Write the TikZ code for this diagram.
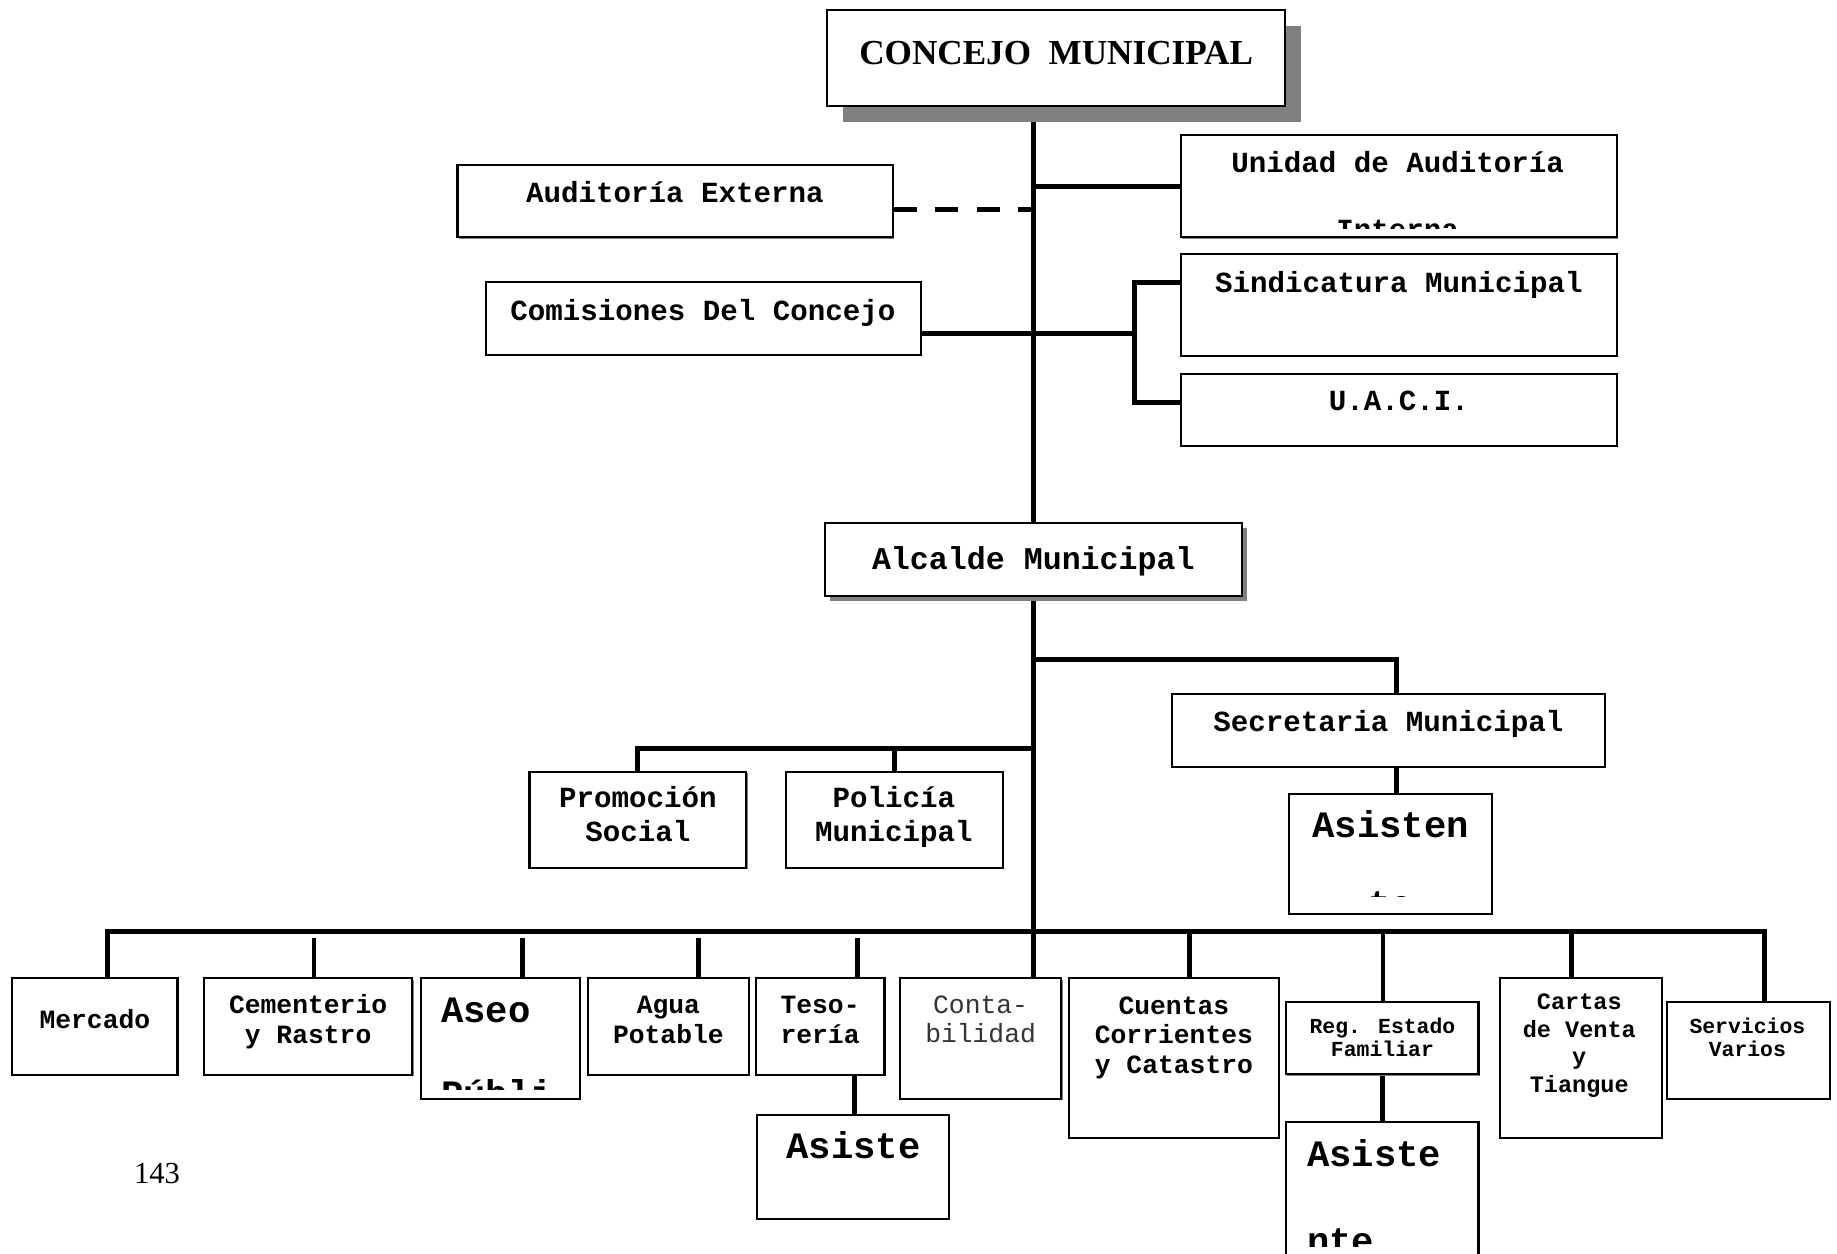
\documentclass[tikz,border=0pt]{standalone}
\usepackage{fontspec}
\setmainfont{Liberation Serif}
\newfontfamily\courfont{Liberation Mono}
\usetikzlibrary{fit,calc,shadows,backgrounds}

\tikzset{
  caja/.style={draw, line width=0.6pt, fill=white, inner sep=0pt},
  sombra/.style={general shadow={fill=black!50, shadow xshift=#1, shadow yshift=-#1}},
  sombra/.default=0.35pt,
  linea/.style={line width=1.4pt},
  titulo/.style={font=\bfseries\fontsize{10}{12}\selectfont, inner sep=0pt, anchor=base, yshift=-0.3pt},
  txt/.style={font=\courfont\bfseries\fontsize{8.3}{9.5}\selectfont, align=center, inner sep=0pt, anchor=base, yshift=-0.85pt},
  txtalc/.style={txt, font=\courfont\bfseries\fontsize{9}{11}\selectfont},
  txtchico/.style={txt, font=\courfont\bfseries\fontsize{7.5}{8.5}\selectfont},
  txtcartas/.style={txt, font=\courfont\bfseries\fontsize{6.7}{7.8}\selectfont},
  txtmini/.style={txt, font=\courfont\bfseries\fontsize{6.1}{6.8}\selectfont},
  txtgrande/.style={txt, font=\courfont\bfseries\fontsize{10.6}{12}\selectfont},
  txtconta/.style={txt, font=\courfont\fontsize{7.5}{8.3}\selectfont, text=black!80},
}

\begin{document}
\begin{tikzpicture}[x=0.011716cm, y=-0.011716cm]
	\useasboundingbox (0,0) rectangle (1568,1070);

	% cajas de arriba
	\node[caja, sombra=4.5pt, fit={(706,8.5) (1097,90.5)}] (concejo) {};
	\node[caja, sombra, fit={(1008,115) (1380,202.6)}] (unidad) {};
	\node[caja, sombra, fit={(390.5,141) (762,202.6)}] (ext) {};
	\node[caja, sombra, fit={(415,241) (786,303)}] (com) {};
	\node[caja, sombra, fit={(1008,216.8) (1380,303.9)}] (sind) {};
	\node[caja, sombra, fit={(1008,319) (1380,380.7)}] (uaci) {};
	\node[caja, sombra=1.4pt, fit={(704,446.6) (1060,508.7)}] (alcalde) {};
	\node[caja, sombra, fit={(1000.5,592.4) (1369.6,654.4)}] (secre) {};
	\node[caja, sombra, fit={(1100,677.7) (1273.5,780)}] (asisten) {};
	\node[caja, sombra, fit={(452,658.7) (637,740.6)}] (promo) {};
	\node[caja, sombra, fit={(671,658.7) (855.8,740.6)}] (poli) {};

	% cajas de abajo
	\node[caja, sombra, fit={(10,835) (151.5,917.6)}] (merc) {};
	\node[caja, sombra, fit={(174,835) (352,917.6)}] (cem) {};
	\node[caja, sombra, fit={(359,835) (495,938)}] (aseo) {};
	\node[caja, sombra, fit={(502,835) (639,917.6)}] (agua) {};
	\node[caja, sombra, fit={(645,835) (755,917.6)}] (teso) {};
	\node[caja, sombra, fit={(646,952) (810,1040.6)}] (asistes) {};
	\node[caja, sombra, fit={(768,835) (906,938)}] (conta) {};
	\node[caja, sombra, fit={(912.5,835) (1091.5,971)}] (cuentas) {};
	\node[caja, sombra, fit={(1097.6,855) (1262,917)}] (reg) {};
	\node[caja, sombra, fit={(1097.6,957.6) (1262,1090)}] (asistr) {};
	\node[caja, sombra, fit={(1280,835) (1418.6,971)}] (cartas) {};
	\node[caja, sombra, fit={(1423,855) (1562,938)}] (serv) {};

	% puntos de union
	\coordinate (jext) at (883,179);
	\coordinate (jcom) at (968,285);
	\coordinate (jsind) at (968,241);
	\coordinate (juaci) at (968,343.7);
	\coordinate (jsec) at (883,563);
	\coordinate (dsec) at (1192,563);
	\coordinate (jpro) at (883,638.7);
	\coordinate (busL) at (92,795);
	\coordinate (busR) at (1506,795);
	\coordinate (dcem) at (268,801);
	\coordinate (dase) at (446,801);
	\coordinate (dagu) at (596,801);
	\coordinate (dtes) at (732,801);
	\coordinate (dtes2) at (729,917.6);
	\coordinate (dcue) at (1015.5,795);
	\coordinate (dreg) at (1180.5,795);
	\coordinate (dcar) at (1341,795);

	\begin{scope}[on background layer]
		\draw[linea] (concejo.south -| alcalde.north) -- (alcalde.north);
		\draw[linea] (alcalde.south) -- (alcalde.south |- conta.north);
		\draw[linea] (unidad.west) -- (unidad.west -| alcalde.north);
		\draw[linea, dash pattern=on 6.5pt off 5.3pt] (jext -| ext.east) -- (jext);
		\draw[linea] (jcom -| com.east) -- (jcom);
		\draw[linea] (sind.west |- jsind) -- (jsind) -- (juaci) -- (uaci.west |- juaci);
		\draw[linea] (jsec) -- (dsec) -- (dsec |- secre.north);
		\draw[linea] (dsec |- secre.south) -- (dsec |- asisten.north);
		\draw[linea] (jpro) -| (promo.north);
		\draw[linea] (poli.north) -- (poli.north |- jpro);
		\draw[linea] (merc.north -| busL) -- (busL) -- (busR) -- (serv.north -| busR);
		\draw[linea] (dcem) -- (dcem |- cem.north);
		\draw[linea] (dase) -- (dase |- aseo.north);
		\draw[linea] (dagu) -- (dagu |- agua.north);
		\draw[linea] (dtes) -- (dtes |- teso.north);
		\draw[linea] (dtes2) -- (dtes2 |- asistes.north);
		\draw[linea] (dcue) -- (dcue |- cuentas.north);
		\draw[linea] (dreg) -- (dreg |- reg.north);
		\draw[linea] (reg.south) -- (asistr.north);
		\draw[linea] (dcar) -- (dcar |- cartas.north);
	\end{scope}

	% textos (en varias lineas: la base es la de la ultima linea)
	\node[titulo] (tconcejo) at (901.5,54) {CONCEJO\ \ MUNICIPAL};
	\node[txt] (tunidad) at (1193,145) {Unidad de Auditoría};
	\begin{scope}
		\clip (1008,115) rectangle (1380,195);
		\node[txt] (tinterna) at (1193,202) {Interna};
	\end{scope}
	\node[txt] (text) at (576,170.7) {Auditoría Externa};
	\node[txt] (tcom) at (600,270.6) {Comisiones Del Concejo};
	\node[txt] (tsind) at (1194,247) {Sindicatura Municipal};
	\node[txt] (tuaci) at (1194,348) {U.A.C.I.};
	\node[txtalc] (talcalde) at (882,483.7) {Alcalde Municipal};
	\node[txt] (tsecre) at (1185,622) {Secretaria Municipal};
	\node[txtgrande] (tasisten) at (1187,712.7) {Asisten};
	\begin{scope}
		\clip (1100,677.7) rectangle (1273.5,765);
		\node[txtgrande] (tasisten2) at (1187,780) {te};
	\end{scope}
	\node[txt] (tpromo) at (544.5,715.4) {Promoción\\Social};
	\node[txt] (tpoli) at (763,715.4) {Policía\\Municipal};

	\node[txtchico] (tmerc) at (81,875) {Mercado};
	\node[txtchico] (tcem) at (263,888) {Cementerio\\y Rastro};
	\node[txtgrande, anchor=base west] (taseo) at (376,870) {Aseo};
	\begin{scope}
		\clip (359,835) rectangle (495,930);
		\node[txtgrande, anchor=base west] (taseo2) at (376,941.6) {Públi};
	\end{scope}
	\node[txtchico] (tagua) at (570.5,888) {Agua\\Potable};
	\node[txtchico] (tteso) at (700,888) {Teso-\\rería};
	\node[txtgrande] (tasistes) at (728.5,986) {Asiste};
	\node[txtconta] (tconta) at (837,887) {Conta-\\bilidad};
	\node[txtchico] (tcuentas) at (1002,914) {Cuentas\\Corrientes\\y Catastro};
	\node[txtmini] (treg) at (1180,899.6) {Reg. Estado\\Familiar};
	\node[txtgrande, anchor=base west] (tasistr) at (1115,993) {Asiste};
	\begin{scope}
		\clip (1097.6,957.6) rectangle (1262,1064);
		\node[txtgrande, anchor=base west] (tasistr2) at (1115,1067) {nte};
	\end{scope}
	\node[txtcartas] (tcartas) at (1348,929.7) {Cartas\\de Venta\\y\\Tiangue};
	\node[txtmini] (tserv) at (1491.5,899.6) {Servicios\\Varios};

	\node[font=\fontsize{8.7}{10}\selectfont, inner sep=0pt, anchor=base] (tpag) at (134,1010) {143};
\end{tikzpicture}
\end{document}
